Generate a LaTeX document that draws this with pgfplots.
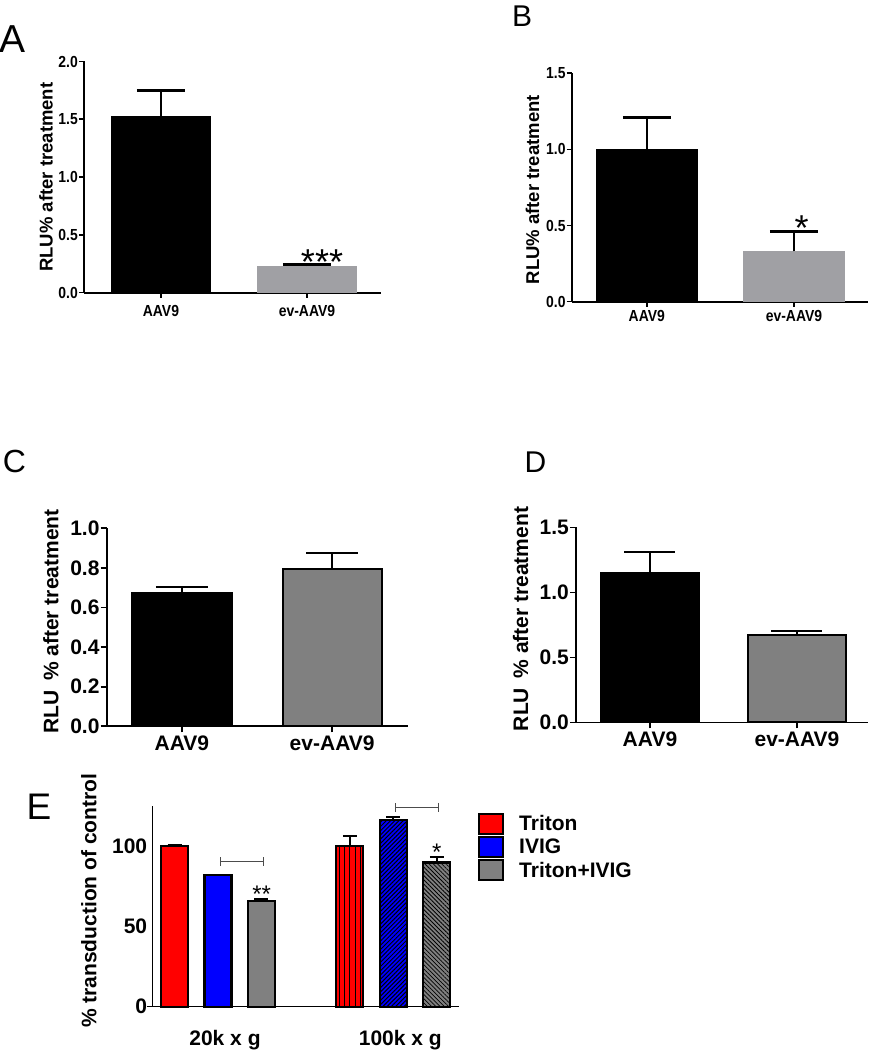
\documentclass[border=0pt]{standalone}
\usepackage{fontspec}
\setmainfont{Liberation Sans}
\newfontfamily\narrowfont[FakeStretch=0.87]{Liberation Sans}
\usepackage{pgfplots}
\pgfplotsset{compat=1.18}
\usetikzlibrary{patterns.meta,arrows.meta}

\definecolor{lgray}{RGB}{160,160,164}
\definecolor{mgray}{RGB}{128,128,128}
\newcommand{\fs}[1]{\fontsize{#1}{#1}\selectfont}

\pgfplotsset{
  gp/.style={scale only axis, anchor=south west, clip=false,
    axis x line*=bottom, axis y line*=left,
    axis line style={-}, tick align=outside,
    ymin=0, /pgf/number format/assume math mode=true,
    xtick={1,2}, xticklabels={AAV9,ev-AAV9}},
  onedec/.style={yticklabel style={/pgf/number format/fixed, /pgf/number format/fixed zerofill, /pgf/number format/precision=1}},
  ebar/.style n args={2}{error bars/y dir=plus, error bars/y explicit,
    error bars/error bar style={line width=#1, black, solid},
    error bars/error mark options={rotate=90, mark size=#2, line width=#1, black, solid}},
  boxlegend/.style={legend image code/.code={\draw[##1, line width=2pt] (0pt,-10pt) rectangle (24pt,10pt);}},
  ebox/.style={ybar, bar width=27pt, bar shift=0pt, draw=black, line width=2pt},
  thickout/.style={every axis plot post/.append style={/tikz/line width=2.2pt, /tikz/draw=black}},
}

\begin{document}
\begin{tikzpicture}
\path[use as bounding box] (0pt,0pt) rectangle (873pt,1050pt);

% panel letters
\node[font=\fs{39}] at (12.5pt,1011pt) {A};
\node[font=\fs{30}] at (522pt,1034pt) {B};
\node[font=\fs{32}] at (14.5pt,588.5pt) {C};
\node[font=\fs{30}] at (535.5pt,587.5pt) {D};
\node[font=\fs{37}] at (39pt,243.5pt) {E};

% ---------- A ----------
\begin{axis}[gp, onedec, at={(84pt,757.3pt)}, width=297pt, height=231.2pt,
  xmin=0.473, xmax=2.507, ymax=2, ytick={0,0.5,1,1.5,2},
  axis line style={line width=1.8pt}, tick style={line width=1.6pt, black}, major tick length=5pt,
  ticklabel style={font=\narrowfont\fs{16}\bfseries},
  xticklabel style={yshift=-4.5pt},
  yticklabel style={inner sep=1pt},
  ylabel={RLU\% after treatment},
  ylabel style={font=\fs{18.5}\bfseries, at={(axis description cs:-0.128,0.5)}, anchor=center}]
\addplot[ybar, bar width=100pt, bar shift=0pt, fill=black, draw=none, ebar={2.5pt}{24pt}]
  coordinates {(1,1.53) +- (0,0.22)};
\addplot[ybar, bar width=100pt, bar shift=0pt, fill=lgray, draw=none, ebar={2.5pt}{24pt}]
  coordinates {(2,0.23) +- (0,0.015)};
\node[font=\fs{36}, anchor=base] at (axis cs:2.103,0.155) {***};
\end{axis}

% ---------- B ----------
\begin{axis}[gp, onedec, at={(571.7pt,748.3pt)}, width=296.3pt, height=228.4pt,
  xmin=0.49, xmax=2.503, ymax=1.5, ytick={0,0.5,1,1.5},
  axis line style={line width=1.8pt}, tick style={line width=1.6pt, black}, major tick length=5pt,
  ticklabel style={font=\narrowfont\fs{16}\bfseries},
  yticklabel style={inner sep=1pt},
  ylabel={RLU\% after treatment},
  ylabel style={font=\fs{18.5}\bfseries, at={(axis description cs:-0.132,0.49)}, anchor=center}]
\addplot[ybar, bar width=102pt, bar shift=0pt, fill=black, draw=none, ebar={2.5pt}{24pt}]
  coordinates {(1,1.0) +- (0,0.21)};
\addplot[ybar, bar width=102pt, bar shift=0pt, fill=lgray, draw=none, ebar={2.5pt}{24pt}]
  coordinates {(2,0.33) +- (0,0.13)};
\node[font=\fs{36}, anchor=base] at (axis cs:2.052,0.40) {*};
\end{axis}

% ---------- C ----------
\begin{axis}[gp, onedec, thickout, at={(106.7pt,323.7pt)}, width=301.3pt, height=198pt,
  xmin=0.499, xmax=2.505, ymax=1.0, ytick={0,0.2,0.4,0.6,0.8,1},
  axis line style={line width=2pt}, tick style={line width=1.8pt, black}, major tick length=6pt,
  ticklabel style={font=\fs{21}\bfseries},
  yticklabel style={inner sep=1pt},
  ylabel={RLU\hspace{0.45em}\% after treatment},
  ylabel style={font=\fs{21}\bfseries, at={(axis description cs:-0.185,0.53)}, anchor=center}]
\addplot[ybar, bar width=99pt, bar shift=0pt, fill=black, draw=black, line width=2pt, ebar={2.5pt}{26pt}]
  coordinates {(1,0.675) +- (0,0.028)};
\addplot[ybar, bar width=99pt, bar shift=0pt, fill=mgray, draw=black, line width=2pt, ebar={2.5pt}{26pt}]
  coordinates {(2,0.795) +- (0,0.08)};
\end{axis}

% ---------- D ----------
\begin{axis}[gp, onedec, thickout, at={(576pt,327.7pt)}, width=292pt, height=195pt,
  xmin=0.497, xmax=2.483, ymax=1.5, ytick={0,0.5,1,1.5},
  axis line style={line width=1.3pt}, tick style={line width=1.3pt, black}, major tick length=6pt,
  ticklabel style={font=\fs{21}\bfseries},
  yticklabel style={inner sep=1pt},
  ylabel={RLU\hspace{0.45em}\% after treatment},
  ylabel style={font=\fs{21}\bfseries, at={(axis description cs:-0.19,0.53)}, anchor=center}]
\addplot[ybar, bar width=98pt, bar shift=0pt, fill=black, draw=black, line width=2pt, ebar={2.5pt}{25.5pt}]
  coordinates {(1,1.145) +- (0,0.165)};
\addplot[ybar, bar width=98pt, bar shift=0pt, fill=mgray, draw=black, line width=2pt, ebar={2.5pt}{25.5pt}]
  coordinates {(2,0.672) +- (0,0.03)};
\end{axis}

% ---------- E ----------
\begin{axis}[gp, thickout, at={(152.7pt,43.3pt)}, width=306.6pt, height=200.7pt,
  xmin=-0.3725, xmax=1.3765, ymax=125, ytick={0,50,100},
  xtick={0,1}, xticklabels={20k x g,100k x g},
  axis line style={line width=1.3pt}, x axis line style={shorten <=-6pt},
  major tick length=0pt,
  ticklabel style={font=\fs{21}\bfseries},
  xticklabel style={yshift=-20pt, xshift=7pt},
  yticklabel style={xshift=-2pt},
  ylabel={\% transduction of control},
  ylabel style={font=\fs{21}\bfseries, at={(axis description cs:-0.208,0.528)}, anchor=center},
  legend style={draw=none, fill=none, at={(axis description cs:1.061,0.967)}, anchor=north west,
    font=\fs{21}\bfseries, row sep=1.3pt, inner sep=0pt, nodes={inner xsep=15pt, inner ysep=0pt}},
  legend cell align=left]
\addlegendimage{boxlegend, fill=red}
\addlegendentry{Triton}
\addlegendimage{boxlegend, fill=blue}
\addlegendentry{IVIG}
\addlegendimage{boxlegend, fill=mgray}
\addlegendentry{Triton+IVIG}
% 20k x g  (group 0: Triton, IVIG, Triton+IVIG)
\addplot[ebox, fill=red, ebar={2pt}{7pt}]
  coordinates {(-0.248,100) +- (0,0.6)};
\addplot[ebox, fill=blue, ebar={2pt}{7pt}]
  coordinates {(0,82) +- (0,0.3)};
\addplot[ebox, fill=mgray, ebar={2pt}{7pt}]
  coordinates {(0.248,66) +- (0,1.3)};
% 100k x g  (group 1)
\addplot[ebox, preaction={fill=red},
  pattern={Lines[angle=90,distance=5.3pt,line width=1.2pt]}, pattern color=black, ebar={2pt}{7pt}]
  coordinates {(0.752,100) +- (0,6.3)};
\addplot[ebox, preaction={fill=blue},
  pattern={Lines[angle=45,distance=3pt,line width=1pt]}, pattern color=black, ebar={2pt}{7pt}]
  coordinates {(1,116.3) +- (0,2)};
\addplot[ebox, preaction={fill=mgray},
  pattern={Lines[angle=-45,distance=3pt,line width=0.8pt]}, pattern color=black, ebar={2pt}{7pt}]
  coordinates {(1.248,89.8) +- (0,3.3)};
\draw[black!70, line width=1.2pt, {Bar[width=9pt]}-{Bar[width=9pt]}] (axis cs:0.0114,90.3) -- (axis cs:0.262,90.3);
\draw[black!70, line width=1.2pt, {Bar[width=9pt]}-{Bar[width=9pt]}] (axis cs:1.0097,124.2) -- (axis cs:1.262,124.2);
\node[font=\fs{24}, anchor=base] at (axis cs:0.249,64.6) {**};
\node[font=\fs{24}, anchor=base] at (axis cs:1.2476,91.0) {*};
\end{axis}
\end{tikzpicture}
\end{document}
